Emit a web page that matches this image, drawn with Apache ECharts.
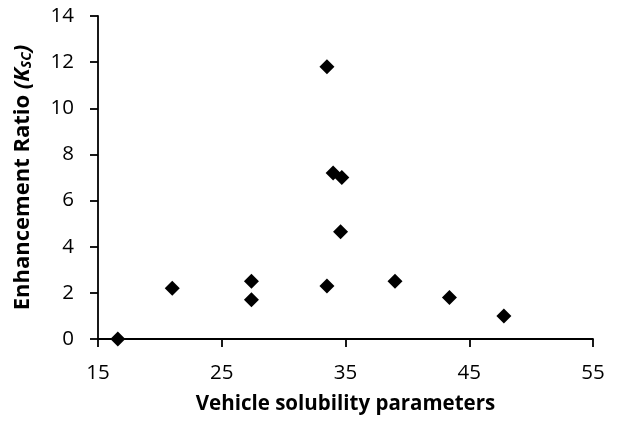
<!DOCTYPE html>
<html>
<head>
<meta charset="utf-8">
<script src="https://cdn.jsdelivr.net/npm/echarts@6/dist/echarts.min.js"></script>
<style>
  html, body { margin: 0; padding: 0; background: #fff; }
  #chart { width: 617px; height: 423px; }
</style>
</head>
<body>
<div id="chart"></div>
<script>
// Vehicle solubility parameter (x) vs. enhancement ratio K_SC (y)
const solubility = [16.6, 21.0, 27.4, 27.4, 33.5, 33.5, 34.0, 34.7, 34.6, 39.0, 43.4, 47.8];
const enhancement = [0.0, 2.2, 2.5, 1.7, 11.8, 2.3, 7.2, 7.0, 4.65, 2.5, 1.8, 1.0];
const xTicks = [15, 25, 35, 45, 55];
const yTicks = [0, 2, 4, 6, 8, 10, 12, 14];

const FONT = '"Open Sans", "Noto Sans", sans-serif';
const points = solubility.map((x, i) => [x, enhancement[i]]);

const chart = echarts.init(document.getElementById('chart'));
chart.setOption({
  animation: false,
  backgroundColor: '#fff',
  grid: { left: 98, right: 24, top: 16, bottom: 84 },
  xAxis: {
    type: 'value',
    min: xTicks[0],
    max: xTicks[xTicks.length - 1],
    interval: 10,
    name: 'Vehicle solubility parameters',
    nameLocation: 'middle',
    nameGap: 55,
    nameTextStyle: { fontFamily: FONT, fontWeight: 'bold', fontSize: 20.5, color: '#000' },
    axisLine: { lineStyle: { color: '#000', width: 1.8 } },
    axisTick: { show: true, length: 8, lineStyle: { color: '#000', width: 1.8 } },
    axisLabel: { fontFamily: FONT, fontSize: 20.5, color: '#000', margin: 24 },
    splitLine: { show: false }
  },
  yAxis: {
    type: 'value',
    min: yTicks[0],
    max: yTicks[yTicks.length - 1],
    interval: 2,
    name: '{t|Enhancement Ratio }{i|(K}{s|SC}{i|)}',
    nameLocation: 'middle',
    nameGap: 64,
    nameTextStyle: {
      rich: {
        t: { fontFamily: FONT, fontWeight: 'bold', fontSize: 22, color: '#000' },
        i: { fontFamily: FONT, fontWeight: 'bold', fontStyle: 'italic', fontSize: 22, color: '#000' },
        s: { fontFamily: FONT, fontWeight: 'bold', fontStyle: 'italic', fontSize: 14, color: '#000',
             verticalAlign: 'bottom', padding: [9, 0, 0, 0] }
      }
    },
    axisLine: { show: true, lineStyle: { color: '#000', width: 1.8 } },
    axisTick: { show: true, length: 8, lineStyle: { color: '#000', width: 1.8 } },
    axisLabel: { fontFamily: FONT, fontSize: 20.5, color: '#000', margin: 24 },
    splitLine: { show: false }
  },
  series: [{
    type: 'scatter',
    data: points,
    symbol: 'diamond',
    symbolSize: 15,
    itemStyle: { color: '#000', opacity: 1 }
  }]
});
</script>
</body>
</html>
